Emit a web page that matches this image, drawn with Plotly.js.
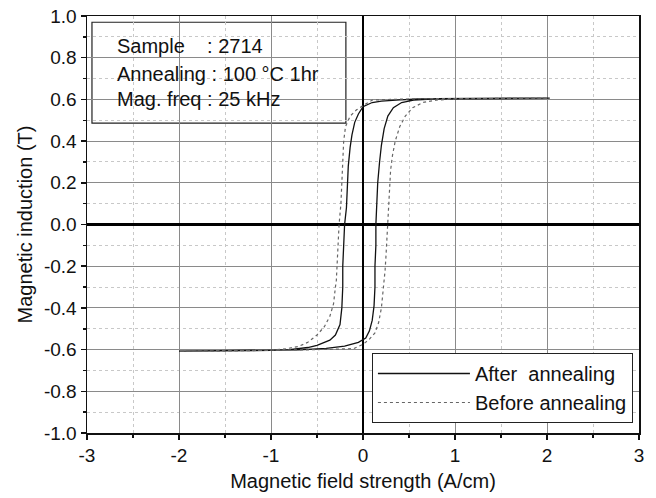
<!DOCTYPE html>
<html>
<head>
<meta charset="utf-8">
<script src="https://cdn.plot.ly/plotly-3.0.1.min.js"></script>
<style>html,body{margin:0;padding:0;background:#fff;}#chart{width:656px;height:498px;}</style>
</head>
<body>
<div id="chart"></div>
<script>
// After annealing: descending branch then ascending branch (closed loop)
const afterX = [2.03,1.5,1.0,0.6,0.4,0.2,0.1,0.0,-0.05,-0.09,-0.12,-0.14,-0.16,-0.17,-0.18,-0.2,-0.21,-0.22,-0.22,-0.23,-0.25,-0.3,-0.36,-0.5,-0.6,-0.8,-1.0,-1.5,-2.0,
  -1.5,-1.0,-0.7,-0.4,-0.2,-0.05,0.03,0.07,0.1,0.12,0.13,0.13,0.14,0.14,0.15,0.16,0.18,0.2,0.23,0.27,0.33,0.42,0.55,0.8,1.2,1.6,2.03];
const afterY = [0.605,0.605,0.604,0.602,0.598,0.592,0.585,0.565,0.53,0.49,0.43,0.37,0.28,0.18,0.08,0.0,-0.1,-0.2,-0.3,-0.4,-0.48,-0.53,-0.555,-0.58,-0.59,-0.6,-0.604,-0.606,-0.607,
  -0.606,-0.605,-0.601,-0.594,-0.583,-0.565,-0.545,-0.51,-0.46,-0.39,-0.3,-0.2,-0.1,0.0,0.1,0.2,0.3,0.38,0.46,0.52,0.56,0.585,0.597,0.603,0.605,0.605,0.606];

// Before annealing
const beforeX = [2.0,1.5,1.0,0.6,0.3,0.1,0.0,-0.07,-0.14,-0.19,-0.21,-0.22,-0.23,-0.24,-0.26,-0.27,-0.28,-0.29,-0.3,-0.32,-0.36,-0.42,-0.5,-0.6,-0.7,-0.85,-1.0,-1.5,-2.0,
  -1.5,-1.0,-0.6,-0.3,-0.1,0.0,0.07,0.13,0.17,0.2,0.22,0.24,0.25,0.27,0.28,0.29,0.3,0.32,0.35,0.4,0.46,0.54,0.65,0.8,1.0,1.5,2.0];
const beforeY = [0.605,0.605,0.604,0.603,0.6,0.597,0.57,0.55,0.52,0.47,0.4,0.3,0.2,0.1,0.0,-0.1,-0.2,-0.27,-0.3,-0.38,-0.44,-0.49,-0.53,-0.565,-0.585,-0.597,-0.603,-0.607,-0.607,
  -0.606,-0.604,-0.601,-0.598,-0.595,-0.575,-0.55,-0.52,-0.47,-0.4,-0.32,-0.22,-0.15,0.0,0.1,0.2,0.26,0.33,0.4,0.47,0.52,0.56,0.585,0.597,0.602,0.605,0.606];

const seriesNames = ['After  annealing', 'Before annealing'];
const xTickVals = [-3,-2,-1,0,1,2,3];
const xTickText = ['-3','-2','-1','0','1','2','3'];
const yTickVals = [-1.0,-0.8,-0.6,-0.4,-0.2,0.0,0.2,0.4,0.6,0.8,1.0];
const yTickText = ['-1.0','-0.8','-0.6','-0.4','-0.2','0.0','0.2','0.4','0.6','0.8','1.0'];
const infoLines = ['Sample    : 2714', 'Annealing : 100 °C 1hr', 'Mag. freq : 25 kHz'];

const FONT = 'Arial, "Liberation Sans", sans-serif';

const traces = [
  {x: afterX, y: afterY, name: seriesNames[0], mode: 'lines', type: 'scatter',
   line: {color: '#111', width: 1.3}},
  {x: beforeX, y: beforeY, name: seriesNames[1], mode: 'lines', type: 'scatter',
   line: {color: '#666', width: 1.2, dash: 'dot'}}
];

const infoY = [0.928, 0.862, 0.800];
const annotations = infoLines.map((t, i) => ({
  text: t, xref: 'paper', yref: 'paper', x: 0.05, y: infoY[i],
  xanchor: 'left', yanchor: 'middle', showarrow: false,
  font: {family: FONT, size: 20, color: '#111'}
}));

const layout = {
  width: 656, height: 498,
  margin: {l: 87, r: 17, t: 16, b: 65},
  paper_bgcolor: '#fff', plot_bgcolor: '#fff',
  font: {family: FONT, color: '#111', size: 17},
  showlegend: true,
  legend: {
    x: 0.989, y: 0.024, xanchor: 'right', yanchor: 'bottom',
    bgcolor: '#fff', bordercolor: '#222', borderwidth: 1,
    font: {family: FONT, size: 20, color: '#111'},
    tracegroupgap: 0, itemwidth: 92
  },
  xaxis: {
    range: [-3, 3], tickmode: 'array', tickvals: xTickVals, ticktext: xTickText,
    ticks: 'outside', ticklen: 5, tickcolor: '#111', tickwidth: 1.5,
    showline: true, linecolor: '#111', linewidth: 1.5, mirror: true,
    showgrid: true, gridcolor: '#8a8a8a', gridwidth: 1,
    zeroline: true, zerolinecolor: '#000', zerolinewidth: 2.5,
    tickfont: {family: FONT, size: 19, color: '#111'},
    minor: {tick0: 0, dtick: 0.5, ticks: 'outside', ticklen: 3, tickcolor: '#111',
            showgrid: true, gridcolor: '#c8c8c8', griddash: 'dot', gridwidth: 1},
    title: {text: 'Magnetic field strength (A/cm)', font: {family: FONT, size: 20, color: '#111'}, standoff: 8}
  },
  yaxis: {
    range: [-1, 1], tickmode: 'array', tickvals: yTickVals, ticktext: yTickText,
    ticks: 'outside', ticklen: 5, tickcolor: '#111', tickwidth: 1.5,
    showline: true, linecolor: '#111', linewidth: 1.5, mirror: true,
    showgrid: true, gridcolor: '#8a8a8a', gridwidth: 1,
    zeroline: true, zerolinecolor: '#000', zerolinewidth: 2.5,
    tickfont: {family: FONT, size: 19, color: '#111'},
    minor: {tick0: 0, dtick: 0.1, ticks: 'outside', ticklen: 3, tickcolor: '#111',
            showgrid: true, gridcolor: '#c8c8c8', griddash: 'dot', gridwidth: 1},
    title: {text: 'Magnetic induction (T)', font: {family: FONT, size: 20, color: '#111'}, standoff: 6}
  },
  shapes: [
    {type: 'rect', xref: 'paper', yref: 'paper', x0: 0.009, x1: 0.469, y0: 0.743, y1: 0.985,
     fillcolor: '#fff', line: {color: '#222', width: 1.2}, layer: 'below'}
  ],
  annotations: annotations
};

Plotly.newPlot('chart', traces, layout, {displayModeBar: false, staticPlot: true});
</script>
</body>
</html>
